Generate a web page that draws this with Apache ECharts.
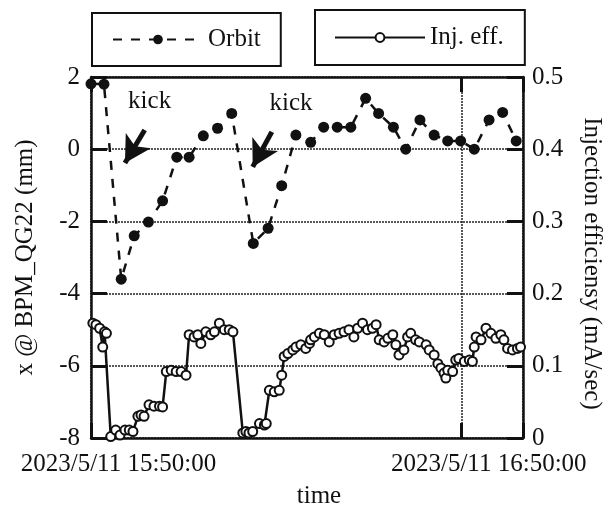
<!DOCTYPE html>
<html>
<head>
<meta charset="utf-8">
<script src="https://cdn.jsdelivr.net/npm/echarts@6/dist/echarts.min.js"></script>
<style>
  html, body { margin: 0; padding: 0; background: #fff; }
  #chart { width: 605px; height: 509px; }
</style>
</head>
<body>
<div id="chart"></div>
<script>
// Time is measured in minutes after 2023/5/11 15:50:00.
const xTickMinutes = [0, 60];
const xTickLabels = ['2023/5/11 15:50:00', '2023/5/11 16:50:00'];

// Beam orbit at BPM_QG22 (mm), left axis
const orbitTime = [0, 2.1, 4.9, 7.0, 9.3, 11.6, 13.9, 15.9, 18.2, 20.5, 22.8,
  26.3, 28.7, 30.9, 33.2, 35.6, 37.7, 39.9, 42.1, 44.5, 46.6, 49.0, 51.0,
  53.3, 55.6, 57.8, 59.9, 62.1, 64.5, 66.7, 68.9];
const orbitX = [1.81, 1.80, -3.60, -2.40, -2.02, -1.43, -0.22, -0.22, 0.37, 0.58, 0.99,
  -2.61, -2.19, -1.01, 0.39, 0.19, 0.61, 0.61, 0.61, 1.41, 0.99, 0.61, 0.00,
  0.81, 0.39, 0.23, 0.23, 0.00, 0.81, 1.02, 0.23];

// Injection efficiency (mA/sec), right axis
const injTime = [0.3, 0.8, 1.4, 1.9, 2.2, 2.5, 3.2, 4.0, 4.7, 5.5, 6.2, 6.8,
  7.6, 8.1, 8.6, 9.4, 10.2, 11.1, 11.6, 12.2, 13.0, 13.8, 14.6, 15.4,
  15.9, 16.7, 17.3, 17.8, 18.6, 19.4, 20.0, 20.8, 21.6, 22.4, 23.0,
  24.6, 25.1, 25.6, 26.2, 27.3, 28.1, 28.4, 28.9, 29.7, 30.5,
  30.9, 31.3, 31.9, 32.7, 33.2, 34.0, 34.8, 35.4, 35.6, 36.2, 37.0, 37.8,
  38.6, 39.4, 40.2, 41.0, 41.8, 42.6, 43.2, 44.0, 44.8, 45.6, 46.2, 46.7,
  47.5, 48.1, 48.9, 49.4, 49.9, 50.7, 51.3, 51.8, 52.6, 53.2, 54.3, 54.8,
  55.6, 56.2, 56.7, 57.2, 57.5, 57.8, 58.6, 59.1, 59.6, 60.5, 61.3, 61.8,
  62.1, 62.4, 63.2, 64.0, 64.8, 65.6, 66.4, 66.9, 67.5, 68.3, 69.1, 69.6];
const injEff = [0.159, 0.157, 0.152, 0.126, 0.147, 0.145, 0.002, 0.011, 0.004, 0.011, 0.011, 0.009,
  0.030, 0.032, 0.030, 0.046, 0.044, 0.044, 0.043, 0.092, 0.094, 0.092, 0.092, 0.087,
  0.143, 0.140, 0.143, 0.131, 0.147, 0.143, 0.147, 0.159, 0.150, 0.150, 0.147,
  0.007, 0.009, 0.007, 0.009, 0.020, 0.018, 0.020, 0.066, 0.064, 0.066,
  0.087, 0.113, 0.117, 0.122, 0.126, 0.129, 0.124, 0.131, 0.136, 0.140, 0.145, 0.143,
  0.133, 0.143, 0.145, 0.147, 0.150, 0.140, 0.152, 0.159, 0.150, 0.152, 0.157, 0.136,
  0.133, 0.138, 0.143, 0.129, 0.115, 0.122, 0.140, 0.145, 0.136, 0.133, 0.129, 0.122,
  0.115, 0.103, 0.097, 0.090, 0.083, 0.094, 0.092, 0.108, 0.110, 0.106, 0.108, 0.106,
  0.126, 0.140, 0.136, 0.152, 0.145, 0.138, 0.143, 0.136, 0.124, 0.122, 0.124, 0.126];

// "kick" notes: text anchor and arrow tail/tip, in (minutes, mm)
const kickText = [[9.5, 1.31], [32.4, 1.28]];
const kickArrows = [
  [[8.7, 0.53], [5.5, -0.38]],
  [[29.3, 0.48], [26.2, -0.49]]
];

const FONT = '"Liberation Serif", "Times New Roman", serif';
const INK = '#111';
const TXT = { fontFamily: FONT, fontSize: 25, color: INK };

const zip = (a, b) => a.map((v, i) => [v, b[i]]);

const chart = echarts.init(document.getElementById('chart'), null, { renderer: 'canvas' });

const xCommon = {
  type: 'value', min: 0, max: 70, interval: 60,
  axisLine: { show: true, onZero: false, lineStyle: { color: INK, width: 2.5 } },
  axisTick: { show: true, inside: true, length: 15, lineStyle: { color: INK, width: 3 } }
};

chart.setOption({
  animation: false,
  backgroundColor: '#fff',
  grid: {
    left: 91, right: 82, top: 77, bottom: 71,
    containLabel: false, outerBoundsMode: 'none'
  },
  legend: [
    {
      data: ['Orbit'], left: 92, top: 13,
      padding: [14, 20, 14, 20],
      borderColor: INK, borderWidth: 2,
      itemWidth: 90, itemHeight: 12,
      textStyle: TXT
    },
    {
      data: ['Inj. eff.'], left: 315, top: 10,
      padding: [15, 21, 15, 19],
      borderColor: INK, borderWidth: 2,
      itemWidth: 90, itemHeight: 11,
      textStyle: TXT
    }
  ],
  xAxis: [
    Object.assign({}, xCommon, {
      position: 'bottom',
      name: 'time', nameLocation: 'middle', nameGap: 46,
      nameTextStyle: Object.assign({}, TXT, { padding: [0, 0, 0, 24] }),
      axisLabel: Object.assign({}, TXT, {
        margin: 14,
        padding: [0, 0, 0, 55],
        formatter: v => {
          const i = xTickMinutes.indexOf(v);
          return i >= 0 ? xTickLabels[i] : '';
        }
      }),
      splitLine: { show: true, lineStyle: { color: '#222', width: 1.5, type: [2, 1] } }
    }),
    Object.assign({}, xCommon, {
      position: 'top',
      axisLabel: { show: false },
      splitLine: { show: false }
    })
  ],
  yAxis: [
    {
      type: 'value', min: -8, max: 2, interval: 2, position: 'left',
      name: 'x @ BPM_QG22 (mm)', nameLocation: 'middle', nameGap: 53,
      nameTextStyle: TXT,
      axisLine: { show: true, onZero: false, lineStyle: { color: INK, width: 2.5 } },
      axisTick: { show: true, inside: true, length: 16, lineStyle: { color: INK, width: 3 } },
      axisLabel: Object.assign({}, TXT, { margin: 11 }),
      splitLine: { show: true, lineStyle: { color: '#222', width: 1.5, type: [2, 1] } }
    },
    {
      type: 'value', min: 0, max: 0.5, interval: 0.1, position: 'right',
      name: 'Injection efficiensy (mA/sec)', nameLocation: 'middle', nameGap: 56,
      nameRotate: -90,
      nameTextStyle: Object.assign({}, TXT, { padding: [0, 0, 0, 12] }),
      axisLine: { show: true, onZero: false, lineStyle: { color: INK, width: 2.5 } },
      axisTick: { show: true, inside: true, length: 16, lineStyle: { color: INK, width: 3 } },
      axisLabel: Object.assign({}, TXT, {
        margin: 9,
        formatter: v => (v === 0 ? '0' : v.toFixed(1))
      }),
      splitLine: { show: false }
    }
  ],
  series: [
    {
      name: 'Inj. eff.', type: 'line', xAxisIndex: 0, yAxisIndex: 1,
      data: zip(injTime, injEff),
      clip: false,
      symbol: 'emptyCircle', symbolSize: 9,
      itemStyle: { color: INK, borderColor: INK, borderWidth: 1.3 },
      lineStyle: { color: INK, width: 2.5 },
      z: 2
    },
    {
      name: 'Orbit', type: 'line', xAxisIndex: 0, yAxisIndex: 0,
      data: zip(orbitTime, orbitX),
      clip: false,
      symbol: 'circle', symbolSize: 11,
      itemStyle: { color: INK, borderColor: INK, borderWidth: 0 },
      lineStyle: { color: INK, width: 2.5, type: [9, 9] },
      z: 3,
      markPoint: {
        silent: true,
        symbol: 'circle', symbolSize: 1,
        itemStyle: { color: 'rgba(0,0,0,0)' },
        label: Object.assign({}, TXT, { show: true, position: 'inside', formatter: 'kick' }),
        data: kickText.map(c => ({ coord: c }))
      },
      markLine: {
        silent: true,
        symbol: ['none', 'arrow'],
        symbolSize: [22, 26],
        label: { show: false },
        lineStyle: { color: INK, width: 5, type: 'solid' },
        data: kickArrows.map(([a, b]) => [{ coord: a }, { coord: b }])
      }
    }
  ]
});
</script>
</body>
</html>
